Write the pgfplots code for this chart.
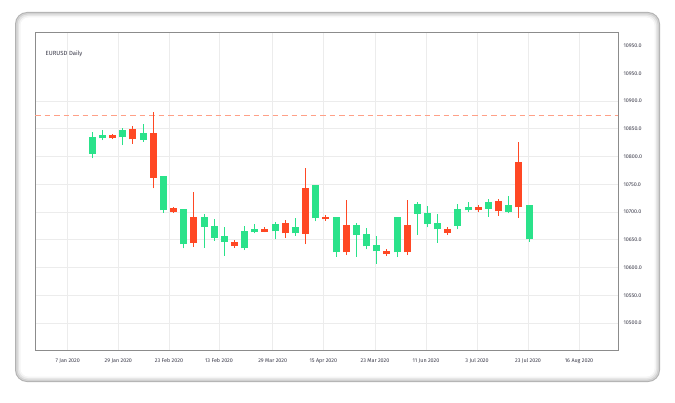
\documentclass[border=0pt]{standalone}
\usepackage{pgfplots}
\pgfplotsset{compat=1.18}
\usepackage{pgfplotstable}
\usepackage{fontspec}
\setmainfont{Fira Sans}
\definecolor{cgreen}{RGB}{42,226,138}
\definecolor{cred}{RGB}{255,72,36}
\definecolor{cgrid}{RGB}{236,236,236}
\definecolor{levelpink}{RGB}{255,160,135}
\definecolor{cframe}{RGB}{140,140,140}
\definecolor{ctext}{RGB}{60,60,75}

% x hi top bot lo  (green candles)
\pgfplotstableread{
x hi top bot lo
1 10843.6 10835.1 10805.0 10796.8
2 10847.7 10838.8 10832.8 10829.7
4 10851.9 10847.7 10834.6 10820.7
6 10858.5 10842.3 10830.3 10826.7
8 10764.9 10764.9 10703.1 10698.8
10 10705.4 10705.4 10642.3 10634.6
12 10695.9 10690.5 10673.0 10635.7
13 10687.4 10674.8 10653.7 10648.3
14 10672.4 10656.2 10645.9 10621.3
16 10674.2 10665.8 10634.6 10631.5
17 10677.8 10668.8 10663.4 10661.6
19 10682.5 10678.4 10665.2 10650.8
21 10688.6 10672.4 10661.6 10656.8
23 10748.6 10748.6 10688.6 10683.2
25 10690.5 10690.5 10627.4 10619.5
27 10680.7 10676.0 10658.5 10619.5
28 10671.2 10660.4 10638.2 10632.8
29 10656.8 10640.0 10629.2 10606.8
31 10690.5 10690.5 10627.4 10618.9
33 10718.6 10715.0 10696.4 10658.6
34 10710.8 10698.2 10678.4 10672.4
35 10695.9 10680.2 10668.8 10644.7
37 10714.4 10705.4 10675.3 10668.8
38 10718.0 10708.5 10703.1 10700.6
40 10722.9 10718.0 10705.4 10691.5
42 10729.4 10712.6 10700.6 10697.6
44 10712.1 10712.1 10650.8 10646.5
}\greentab

% x hi top bot lo  (red candles)
\pgfplotstableread{
x hi top bot lo
3 10841.4 10838.8 10832.8 10831.5
5 10854.9 10849.6 10831.0 10823.1
7 10879.6 10841.8 10761.3 10742.7
9 10709.6 10706.7 10700.6 10698.2
11 10735.5 10690.5 10644.1 10637.5
15 10649.6 10645.9 10638.7 10635.7
18 10672.4 10669.4 10664.0 10663.1
20 10685.0 10679.6 10661.6 10653.7
22 10779.8 10742.7 10660.4 10642.3
24 10694.1 10691.0 10686.8 10683.8
26 10721.1 10676.0 10627.4 10622.5
30 10633.3 10629.7 10624.3 10620.7
32 10721.1 10676.0 10627.4 10622.5
36 10672.4 10669.4 10662.2 10658.6
39 10712.1 10708.5 10703.1 10700.6
41 10724.0 10719.8 10701.3 10693.3
43 10826.1 10790.1 10708.5 10689.7
}\redtab

% dashed reference level
\pgfplotstableread{
x y
-4.642 10874
52.76 10874
}\leveltab

\begin{document}
\begin{tikzpicture}[x=1bp,y=1bp]
\fill[white] (0,0) rectangle (675,402);
% card
\fill[black!30, rounded corners=12bp] (15,20) rectangle (660,390);
\fill[black!18, rounded corners=11bp] (16,21) rectangle (659,389);
\fill[black!10, rounded corners=10bp] (17.5,22.5) rectangle (657.5,387.5);
\fill[black!4, rounded corners=9bp] (19,24) rectangle (656,386);
\fill[white, rounded corners=8bp] (20.5,25.5) rectangle (654.5,384.5);
\node[anchor=west, inner sep=0pt, font=\fontsize{6}{7}\selectfont, text=ctext] at (45.5,347.7) {EURUSD Daily};
\begin{axis}[
  at={(35bp,52bp)}, anchor=south west,
  width=583bp, height=318bp, scale only axis,
  xmin=-4.642, xmax=52.76, ymin=10451.35, ymax=11024.3,
  axis line style={cframe, line width=0.8bp},
  major tick length=0pt,
  scaled y ticks=false, scaled x ticks=false,
  grid=major, major grid style={cgrid, line width=0.9bp},
  xtick={-1.422,3.560,8.552,13.476,18.763,23.745,28.836,33.858,38.879,43.901,48.923},
  xticklabels={7 Jan 2020,29 Jan 2020,23 Feb 2020,13 Feb 2020,29 Mar 2020,15 Apr 2020,23 Mar 2020,11 Jun 2020,3 Jul 2020,23 Jul 2020,16 Aug 2020},
  ytick={10500,10550,10600,10650,10700,10750,10800,10850,10900},
  yticklabels={10500.0,10550.0,10600.0,10650.0,10700.0,10750.0,10800.0,10850.0,10900.0},
  extra y ticks={10950,11000},
  extra y tick labels={10950.0,10950.0},
  extra y tick style={grid=none},
  yticklabel pos=right,
  tick label style={font=\fontsize{5.4}{6}\selectfont, text=ctext},
  xticklabel style={yshift=-5bp},
  yticklabel style={xshift=2bp},
  /pgf/number format/assume math mode=true,
  clip=true,
]
\addplot[draw=levelpink, line width=1.5bp, dash pattern=on 5.5bp off 4bp, mark=none, forget plot] table[x=x, y=y] {\leveltab};
% wicks
\addplot[draw=none, mark=none, forget plot, error bars/.cd, y dir=plus, y explicit, error mark=none,
  error bar style={draw=cgreen, line width=1bp}]
  table[x=x, y=lo, y error plus expr=\thisrow{hi}-\thisrow{lo}] {\greentab};
\addplot[draw=none, mark=none, forget plot, error bars/.cd, y dir=plus, y explicit, error mark=none,
  error bar style={draw=cred, line width=1bp}]
  table[x=x, y=lo, y error plus expr=\thisrow{hi}-\thisrow{lo}] {\redtab};
% bodies
\addplot[draw=none, mark=none, forget plot, error bars/.cd, y dir=plus, y explicit, error mark=none,
  error bar style={draw=cgreen, line width=7bp}]
  table[x=x, y=bot, y error plus expr=\thisrow{top}-\thisrow{bot}] {\greentab};
\addplot[draw=none, mark=none, forget plot, error bars/.cd, y dir=plus, y explicit, error mark=none,
  error bar style={draw=cred, line width=7bp}]
  table[x=x, y=bot, y error plus expr=\thisrow{top}-\thisrow{bot}] {\redtab};
\end{axis}
\end{tikzpicture}
\end{document}
